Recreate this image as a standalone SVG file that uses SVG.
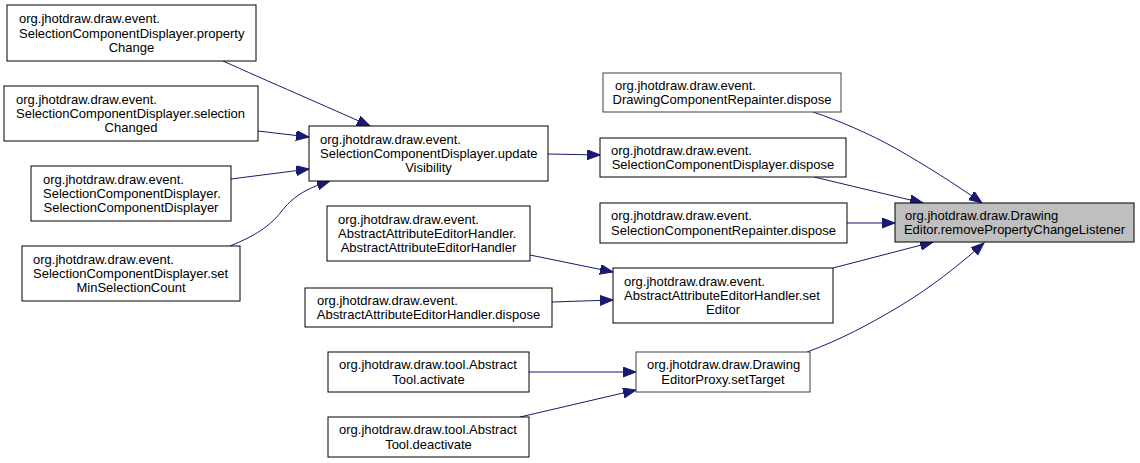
<svg xmlns="http://www.w3.org/2000/svg" width="1140" height="463" viewBox="0 0 1140 463">
<style>
.node rect{fill:#ffffff;stroke:#000000;stroke-width:1}
.node.hl rect{fill:#bfbfbf}
.node.gr rect{stroke:#404040}
text{font-family:"Liberation Sans",Arial,Helvetica,sans-serif;font-size:13px;fill:#000000}
.c{text-anchor:middle}
.edges path{fill:none;stroke:#191970;stroke-width:1;marker-end:url(#arr)}
</style>
<defs>
<marker id="arr" markerUnits="userSpaceOnUse" markerWidth="14" markerHeight="12" refX="13" refY="5" orient="auto">
<path d="M0,0 L13,5 L0,10 z" fill="#191970" stroke="#191970" stroke-width="1"/>
</marker>
</defs>
<rect x="0" y="0" width="1140" height="463" fill="#ffffff"/>
<g class="edges">
<path d="M223,61 C265,80 330,108 370,126"/>
<path d="M258,131 L309,137"/>
<path d="M231,179 L309,169"/>
<path d="M230,246 C255,236 270,226 281,212 C292,198 304,189 330,181"/>
<path d="M548,154 L600,155"/>
<path d="M813,112 C840,121 870,134 895,148 C925,165 955,184 982,203"/>
<path d="M814,177 L923,203"/>
<path d="M847,223 L895,223"/>
<path d="M833,268 L933,242"/>
<path d="M807,352 C840,340 870,324 900,306 C930,288 958,266 984,243"/>
<path d="M530,255 L613,272"/>
<path d="M552,302 L613,300"/>
<path d="M529,372 L636,372"/>
<path d="M520,417 L636,390"/>
</g>
<g id="n1" class="node"><rect x="7" y="5" width="249" height="56"/>
<text x="19" y="23.1">org.jhotdraw.draw.event.</text>
<text x="19" y="37.5">SelectionComponentDisplayer.property</text>
<text class="c" x="131.5" y="51.9">Change</text></g>
<g id="n2" class="node"><rect x="4" y="86" width="254" height="55"/>
<text x="16" y="103.6">org.jhotdraw.draw.event.</text>
<text x="16" y="118">SelectionComponentDisplayer.selection</text>
<text class="c" x="131" y="132.4">Changed</text></g>
<g id="n3" class="node"><rect x="31" y="166" width="200" height="55"/>
<text x="43" y="183.6">org.jhotdraw.draw.event.</text>
<text x="43" y="198">SelectionComponentDisplayer.</text>
<text class="c" x="131" y="212.4">SelectionComponentDisplayer</text></g>
<g id="n4" class="node"><rect x="22" y="246" width="218" height="55"/>
<text x="33" y="263.6">org.jhotdraw.draw.event.</text>
<text x="33" y="278">SelectionComponentDisplayer.set</text>
<text class="c" x="131" y="292.4">MinSelectionCount</text></g>
<g id="n5" class="node"><rect x="309" y="126" width="239" height="55"/>
<text x="320" y="143.6">org.jhotdraw.draw.event.</text>
<text x="320" y="158">SelectionComponentDisplayer.update</text>
<text class="c" x="428.5" y="172.4">Visibility</text></g>
<g id="n6" class="node"><rect x="327" y="206" width="203" height="55"/>
<text x="338" y="223.6">org.jhotdraw.draw.event.</text>
<text x="338" y="238">AbstractAttributeEditorHandler.</text>
<text class="c" x="428.5" y="252.4">AbstractAttributeEditorHandler</text></g>
<g id="n7" class="node"><rect x="305" y="288" width="247" height="39"/>
<text x="317" y="304.8">org.jhotdraw.draw.event.</text>
<text class="c" x="428.5" y="319.2">AbstractAttributeEditorHandler.dispose</text></g>
<g id="n8" class="node"><rect x="613" y="268" width="220" height="55"/>
<text x="624" y="285.6">org.jhotdraw.draw.event.</text>
<text x="624" y="300">AbstractAttributeEditorHandler.set</text>
<text class="c" x="723" y="314.4">Editor</text></g>
<g id="n9" class="node"><rect x="328" y="352" width="201" height="40"/>
<text x="339" y="369.3">org.jhotdraw.draw.tool.Abstract</text>
<text class="c" x="428.5" y="383.7">Tool.activate</text></g>
<g id="n10" class="node"><rect x="328" y="417" width="201" height="40"/>
<text x="339" y="434.3">org.jhotdraw.draw.tool.Abstract</text>
<text class="c" x="428.5" y="448.7">Tool.deactivate</text></g>
<g id="n11" class="node gr"><rect x="636" y="352" width="174" height="40"/>
<text x="647" y="369.3">org.jhotdraw.draw.Drawing</text>
<text class="c" x="723" y="383.7">EditorProxy.setTarget</text></g>
<g id="n12" class="node gr"><rect x="603" y="73" width="238" height="39"/>
<text x="615" y="89.8">org.jhotdraw.draw.event.</text>
<text class="c" x="722" y="104.2">DrawingComponentRepainter.dispose</text></g>
<g id="n13" class="node"><rect x="600" y="138" width="246" height="39"/>
<text x="611" y="154.8">org.jhotdraw.draw.event.</text>
<text class="c" x="723" y="169.2">SelectionComponentDisplayer.dispose</text></g>
<g id="n14" class="node"><rect x="600" y="203" width="247" height="40"/>
<text x="611" y="220.3">org.jhotdraw.draw.event.</text>
<text class="c" x="723.5" y="234.7">SelectionComponentRepainter.dispose</text></g>
<g id="n15" class="node hl"><rect x="895" y="203" width="239" height="39"/>
<text x="905" y="219.8">org.jhotdraw.draw.Drawing</text>
<text class="c" x="1014.5" y="234.2">Editor.removePropertyChangeListener</text></g>
</svg>
